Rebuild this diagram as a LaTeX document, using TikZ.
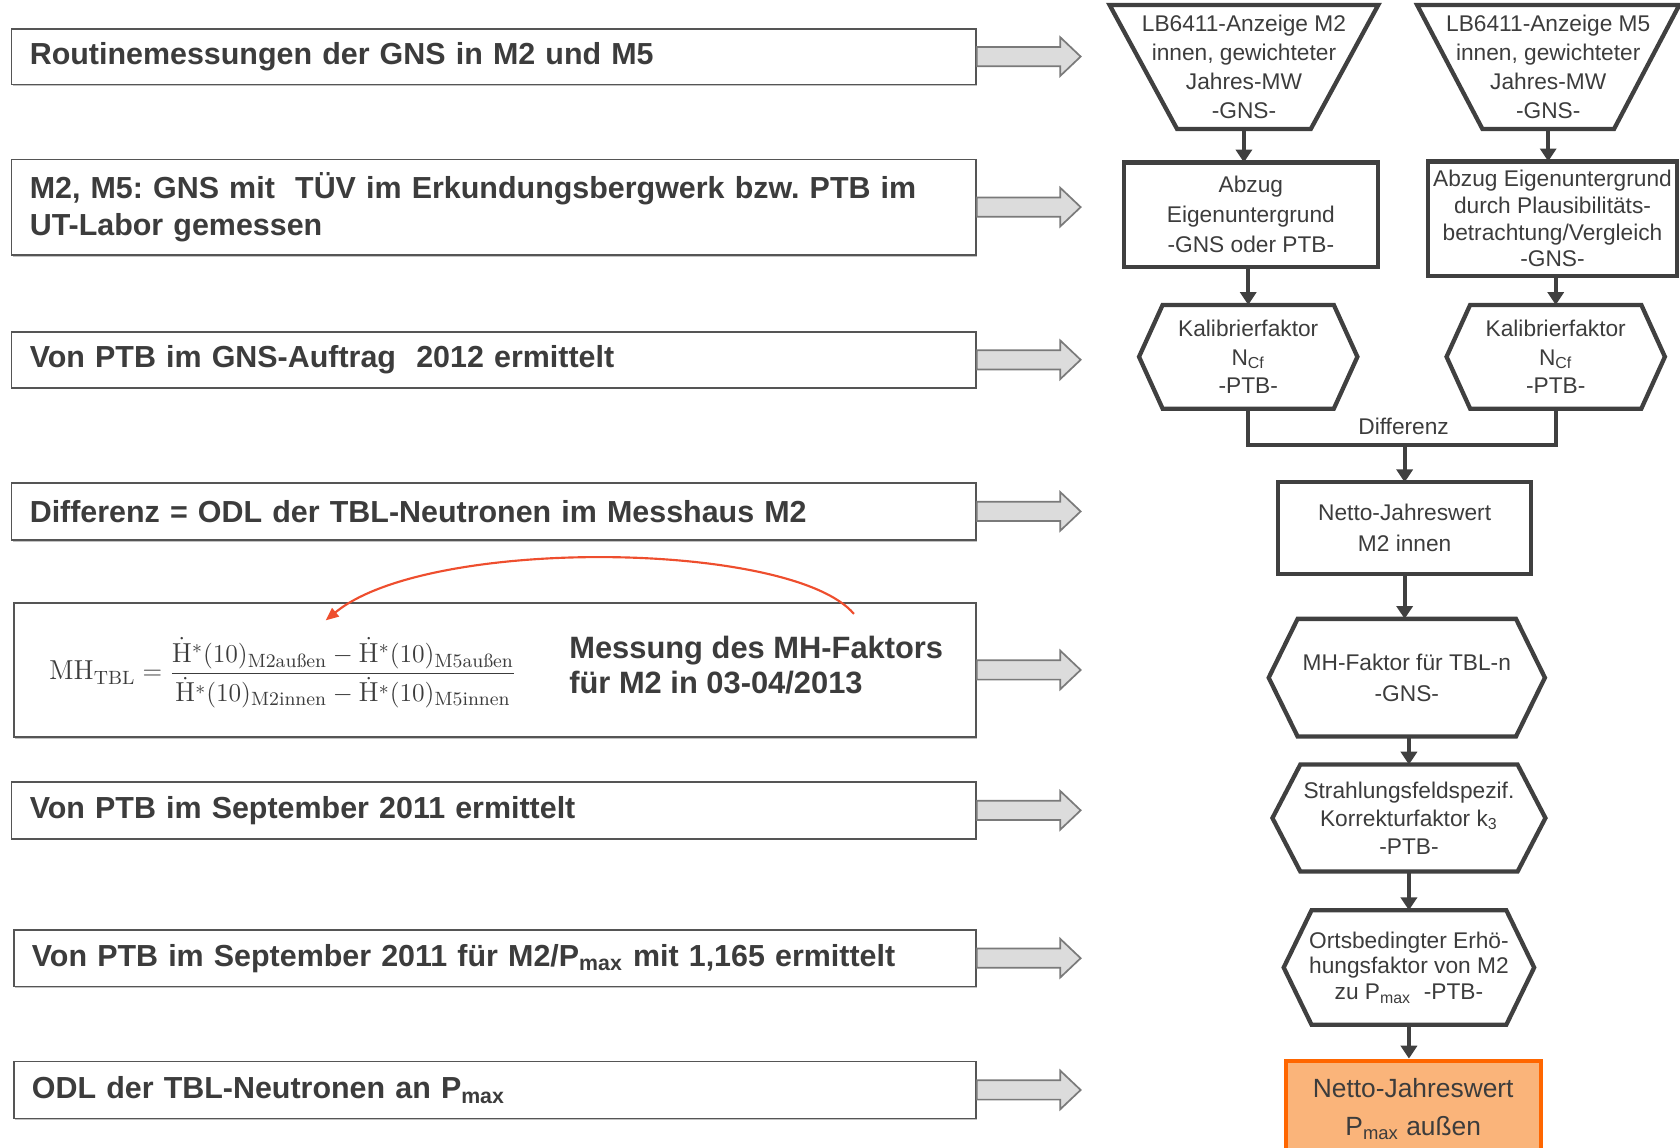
\documentclass[tikz,border=0pt]{standalone}
\usepackage{amsmath}
\usepackage{fontspec}
\setsansfont{Liberation Sans}
\usetikzlibrary{arrows.meta,shadows}
\definecolor{txt}{HTML}{3C3C3C}
\definecolor{ln}{HTML}{404040}
\definecolor{orfill}{HTML}{FAB47A}
\definecolor{ordraw}{HTML}{FF6600}
\definecolor{redarr}{HTML}{EE4E2E}
\definecolor{arrfill}{HTML}{DCDCDC}
\definecolor{arrdraw}{HTML}{7A7A7A}
\definecolor{boxdraw}{HTML}{555555}
\frenchspacing
\tikzset{
  lbox/.style={draw=boxdraw, line width=0.8pt, fill=white, anchor=north west,
    inner xsep=8.5pt, inner ysep=0pt, align=left, text=txt,
    font=\sffamily\bfseries\fontsize{14.2}{17.5}\selectfont,
    drop shadow={shadow xshift=0.6pt, shadow yshift=-0.8pt, fill=black!40, opacity=0.6}},
  barrow/.style={draw=arrdraw, fill=arrfill, line width=0.8pt, line join=miter},
  rnode/.style={inner sep=0pt, align=center, text=txt, font=\sffamily\fontsize{10.6}{13.5}\selectfont},
  shapeline/.style={draw=ln, line width=2pt, line join=miter},
  conn/.style={draw=ln, line width=2pt, -{Triangle[length=6pt,width=7.5pt]}},
}
\newcommand\barr[1]{\draw[barrow] ([shift={(0,-9)}]#1.east) -- ++(78,0) -- ++(0,-9) -- ++(19,18) -- ++(-19,18) -- ++(0,-9) -- ++(-78,0) -- cycle;}
\newcommand\hexa[2]{\draw[shapeline] ([shift={(#2,0)}]#1.north west) -- ([shift={(-#2,0)}]#1.north east) -- (#1.east) -- ([shift={(-#2,0)}]#1.south east) -- ([shift={(#2,0)}]#1.south west) -- (#1.west) -- cycle;}
\newcommand\trap[2]{\draw[shapeline] (#1.north west) -- (#1.north east) -- ([shift={(-#2,0)}]#1.south east) -- ([shift={(#2,0)}]#1.south west) -- cycle;}
\begin{document}
\begin{tikzpicture}[x=0.5pt,y=-0.5pt]
\useasboundingbox (0,0) rectangle (1568,1071);

% ---------- left boxes ----------
\node[lbox, minimum width=450pt, minimum height=26pt, text width=433pt] (L1) at (10,26) {Routinemessungen der GNS in M2 und M5};
\node[lbox, minimum width=450pt, minimum height=44.5pt, text width=433pt] (L2) at (10,148) {M2, M5: GNS mit\ \ TÜV im Erkundungsbergwerk bzw. PTB im\\UT-Labor gemessen};
\node[lbox, minimum width=450pt, minimum height=26pt, text width=433pt] (L3) at (10,309) {Von PTB im GNS-Auftrag\ \ 2012 ermittelt};
\node[lbox, minimum width=450pt, minimum height=26.5pt, text width=433pt] (L4) at (10,450) {Differenz = ODL der TBL-Neutronen im Messhaus M2};
\node[lbox, minimum width=449pt, minimum height=62.5pt, text width=432pt] (L5) at (12,562) {};
\node[lbox, minimum width=450pt, minimum height=26.5pt, text width=433pt] (L6) at (10,729) {Von PTB im September 2011 ermittelt};
\node[lbox, minimum width=449pt, minimum height=26.5pt, text width=432pt] (L7) at (12,867) {Von PTB im September 2011 für M2/P\textsubscript{max} mit 1,165 ermittelt};
\node[lbox, minimum width=449pt, minimum height=26.5pt, text width=432pt] (L8) at (12,990) {ODL der TBL-Neutronen an P\textsubscript{max}};

\node[inner sep=0pt, text=txt, font=\rmfamily\fontsize{12.8}{15}\selectfont] (F) at (264,628)
 {$\mathrm{MH}_{\text{TBL}} = \dfrac{\dot{\mathrm{H}}^{*}(10)_{\text{M2außen}} - \dot{\mathrm{H}}^{*}(10)_{\text{M5außen}}}{\dot{\mathrm{H}}^{*}(10)_{\text{M2innen}} - \dot{\mathrm{H}}^{*}(10)_{\text{M5innen}}}$};
\node[anchor=west, inner sep=0pt, align=left, text=txt, font=\sffamily\bfseries\fontsize{14.4}{16.5}\selectfont] (MT) at (531,621) {Messung des MH-Faktors\\für M2 in 03-04/2013};

\coordinate (ra) at (797,573);
\coordinate (rb) at (304,579);
\draw[redarr, line width=1pt, -{Triangle[length=6pt,width=5pt]}] (ra) .. controls (740,505) and (400,500) .. (rb);

\foreach \n in {L1,L2,L3,L4,L5,L6,L7,L8} {\barr{\n}}

% ---------- right flowchart ----------
\node[rnode, minimum width=125pt, minimum height=57.5pt] (T1) at (1161,62.5) {LB6411-Anzeige M2\\innen, gewichteter\\Jahres-MW\\-GNS-};
\trap{T1}{63}
\node[rnode, minimum width=122pt, minimum height=57.5pt] (T2) at (1445,62.5) {LB6411-Anzeige M5\\innen, gewichteter\\Jahres-MW\\-GNS-};
\trap{T2}{61}

\node[rnode, minimum width=118pt, minimum height=48.5pt, font=\sffamily\fontsize{10.6}{14}\selectfont] (R1) at (1167.5,200.5) {Abzug\\Eigenuntergrund\\-GNS oder PTB-};
\draw[shapeline] (R1.north west) rectangle (R1.south east);
\node[rnode, minimum width=116pt, minimum height=53pt, font=\sffamily\fontsize{10.6}{12.5}\selectfont] (R2) at (1449,204) {Abzug Eigenuntergrund\\durch Plausibilitäts-\\betrachtung/Vergleich\\-GNS-};
\draw[shapeline] (R2.north west) rectangle (R2.south east);

\node[rnode, minimum width=101.5pt, minimum height=48pt, font=\sffamily\fontsize{10.6}{13.25}\selectfont] (H1) at (1165,333) {Kalibrierfaktor\\N\textsubscript{Cf}\\-PTB-};
\hexa{H1}{22}
\node[rnode, minimum width=101.5pt, minimum height=48pt, font=\sffamily\fontsize{10.6}{13.25}\selectfont] (H2) at (1452,333) {Kalibrierfaktor\\N\textsubscript{Cf}\\-PTB-};
\hexa{H2}{22}

\draw[conn] (T1.south) -- (T1.south |- R1.north);
\draw[conn] (T2.south) -- (T2.south |- R2.north);
\draw[conn] (R1.south -| H1.north) -- (H1.north);
\draw[conn] (R2.south -| H2.north) -- (H2.north);

\node[rnode, minimum width=117.5pt, minimum height=42.5pt, font=\sffamily\fontsize{10.6}{14.5}\selectfont] (N) at (1311,493) {Netto-Jahreswert\\M2 innen};
\draw[shapeline] (N.north west) rectangle (N.south east);

\coordinate (J) at (1311,415.5);
\draw[shapeline] (H1.south) |- (J) -| (H2.south);
\node[rnode] (D) at (1310,398) {Differenz};
\draw[conn] (J) -- (N.north);

\node[rnode, minimum width=128.5pt, minimum height=54.5pt, font=\sffamily\fontsize{10.6}{14.5}\selectfont] (MH) at (1313,632.5) {MH-Faktor für TBL-n\\-GNS-};
\hexa{MH}{27}
\node[rnode, minimum width=127pt, minimum height=49.5pt, font=\sffamily\fontsize{10.6}{13}\selectfont] (S) at (1315,763.5) {Strahlungsfeldspezif.\\Korrekturfaktor k\textsubscript{3}\\-PTB-};
\hexa{S}{26}
\node[rnode, minimum width=116.5pt, minimum height=53pt, font=\sffamily\fontsize{10.6}{12}\selectfont] (O) at (1315,903) {Ortsbedingter Erhö-\\hungsfaktor von M2\\zu P\textsubscript{max}\ \ -PTB-};
\hexa{O}{26}
\node[rnode, minimum width=119pt, minimum height=45pt, font=\sffamily\fontsize{12.3}{18}\selectfont, fill=orfill, draw=ordraw, line width=2pt, anchor=north] (FIN) at (1319,988) {Netto-Jahreswert\\P\textsubscript{max} außen};

\draw[conn] (N.south) -- (N.south |- MH.north);
\draw[conn] (MH.south -| S.north) -- (S.north);
\draw[conn] (S.south -| O.north) -- (O.north);
\draw[conn] (O.south) -- (O.south |- FIN.north);
\end{tikzpicture}
\end{document}
